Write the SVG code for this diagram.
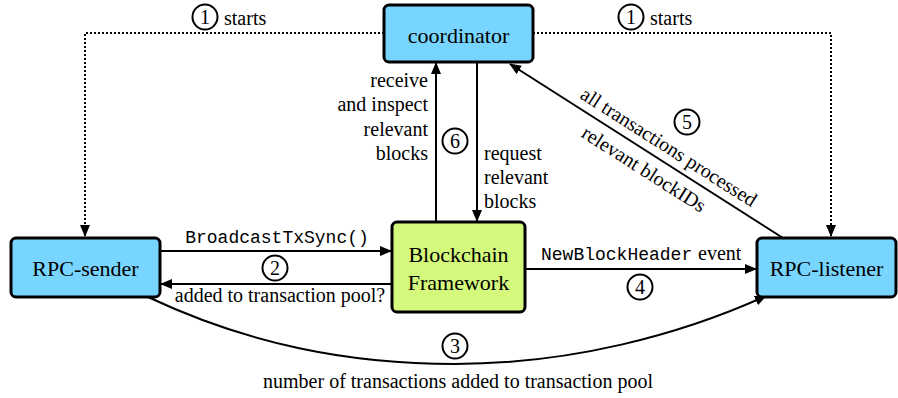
<svg xmlns="http://www.w3.org/2000/svg" width="898" height="398" viewBox="0 0 898 398">
<style>
.node{stroke:#000;stroke-width:3}
.blue{fill:#78d5ff}
.lime{fill:#d4f87c}
.nt{font-family:'Liberation Serif','Times New Roman',serif;font-size:22px;fill:#000;text-anchor:middle}
.t{font-family:'Liberation Serif','Times New Roman',serif;font-size:20px;fill:#000}
.m{font-family:'Liberation Mono','Courier New',monospace;font-size:18px;fill:#000}
.ln{fill:none;stroke:#000;stroke-width:2}
.dot{fill:none;stroke:#000;stroke-width:2;stroke-dasharray:2 2}
.c{fill:none;stroke:#000;stroke-width:2}
</style>
<defs>
<marker id="ah" markerUnits="userSpaceOnUse" markerWidth="12" markerHeight="10" refX="11" refY="5" orient="auto">
<path d="M0,0 L12,5 L0,10 z" fill="#000"/>
</marker>
</defs>
<g id="connectors">
<path class="dot" d="M384,33 H85 V236" marker-end="url(#ah)"/>
<path class="dot" d="M533,33 H831 V236" marker-end="url(#ah)"/>
<path class="ln" d="M436,222 V63" marker-end="url(#ah)"/>
<path class="ln" d="M477,62 V221" marker-end="url(#ah)"/>
<path class="ln" d="M160,251 H391" marker-end="url(#ah)"/>
<path class="ln" d="M392,284 H161" marker-end="url(#ah)"/>
<path class="ln" d="M525,269 H756" marker-end="url(#ah)"/>
<path class="ln" d="M783,238 L510,64" marker-end="url(#ah)"/>
<path class="ln" d="M148,297 C250,345 350,364 455,364 C570,364 680,335 766,296" marker-end="url(#ah)"/>
</g>
<g id="labels">
<circle class="c" cx="205" cy="17" r="12.5"/><text class="t" x="205" y="24" text-anchor="middle">1</text>
<text class="t" x="224" y="25">starts</text>
<circle class="c" cx="631" cy="17" r="12.5"/><text class="t" x="631" y="24" text-anchor="middle">1</text>
<text class="t" x="650" y="25">starts</text>
<text class="t" text-anchor="end"><tspan x="428" y="87">receive</tspan><tspan x="428" y="111">and inspect</tspan><tspan x="428" y="136">relevant</tspan><tspan x="428" y="160">blocks</tspan></text>
<circle class="c" cx="455" cy="141" r="12.5"/><text class="t" x="455" y="148" text-anchor="middle">6</text>
<text class="t"><tspan x="484" y="160">request</tspan><tspan x="484" y="184">relevant</tspan><tspan x="484" y="208">blocks</tspan></text>
<text class="m" x="277" y="243" text-anchor="middle">BroadcastTxSync()</text>
<circle class="c" cx="275" cy="268" r="12.5"/><text class="t" x="275" y="275" text-anchor="middle">2</text>
<text class="t" x="280" y="302" text-anchor="middle">added to transaction pool?</text>
<text class="m" x="541" y="260">NewBlockHeader</text>
<text class="t" x="698" y="260">event</text>
<circle class="c" cx="640" cy="287" r="12.5"/><text class="t" x="640" y="294" text-anchor="middle">4</text>
<circle class="c" cx="455" cy="346" r="12.5"/><text class="t" x="455" y="353" text-anchor="middle">3</text>
<text class="t" x="458" y="388" text-anchor="middle">number of transactions added to transaction pool</text>
<circle class="c" cx="687" cy="122" r="12.5"/><text class="t" x="687" y="129" text-anchor="middle">5</text>
<g transform="translate(646,151) rotate(32.5)">
<text class="t" x="17" y="-9" text-anchor="middle">all transactions processed</text>
<text class="t" x="8" y="23" text-anchor="middle">relevant blockIDs</text>
</g>
</g>
<g id="coordinator">
<rect class="node blue" x="384" y="5" width="149" height="57" rx="5"/>
<text class="nt" x="458.5" y="43">coordinator</text>
</g>
<g id="rpc-sender">
<rect class="node blue" x="11" y="238" width="149" height="59" rx="5"/>
<text class="nt" x="85.5" y="276">RPC-sender</text>
</g>
<g id="blockchain">
<rect class="node lime" x="392" y="222" width="133" height="90" rx="5"/>
<text class="nt" x="458.5" y="262">Blockchain</text>
<text class="nt" x="458.5" y="290">Framework</text>
</g>
<g id="rpc-listener">
<rect class="node blue" x="757" y="238" width="139" height="59" rx="5"/>
<text class="nt" x="826.5" y="276">RPC-listener</text>
</g>
</svg>
